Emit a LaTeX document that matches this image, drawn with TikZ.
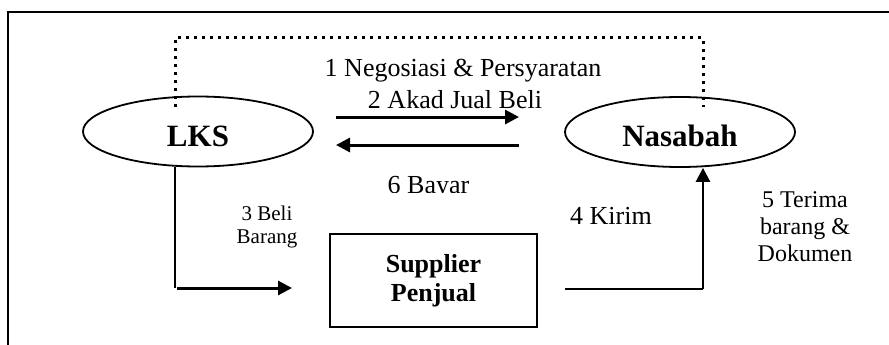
\documentclass[tikz,border=0pt]{standalone}
\usepackage{fontspec}
\setmainfont{Liberation Serif}
\usetikzlibrary{arrows.meta,shapes.geometric}
\begin{document}
\begin{tikzpicture}[x=1pt,y=-1pt,
  ent/.style={ellipse,draw,line width=1.8pt,minimum width=230pt,minimum height=70pt,inner sep=0pt,
    font=\bfseries\fontsize{31}{34}\selectfont,text height=29pt,text depth=0pt},
  boxnode/.style={draw,line width=2.2pt,minimum width=207pt,minimum height=93pt,inner sep=0pt,
    align=center,font=\bfseries\fontsize{26}{29}\selectfont},
  lbl/.style={inner sep=0pt,anchor=base,font=\fontsize{26}{29}\selectfont},
  slbl/.style={inner sep=0pt,align=center,font=\fontsize{21}{23}\selectfont},
  mlbl/.style={inner sep=0pt,align=center,font=\fontsize{24}{27}\selectfont},
  flow/.style={line width=3pt,-{Triangle[length=14pt,width=14pt]}},
  thinline/.style={line width=1.6pt},
  midline/.style={line width=2.3pt},
  dotline/.style={line width=3pt,dash pattern=on 3pt off 5pt},
  frame/.style={line width=2pt}
]
\useasboundingbox (0,0) rectangle (889,345);
% frame
\coordinate (fbl) at (8,345);
\coordinate (ftl) at (8,12);
\coordinate (ftr) at (889,12);
\draw[frame] (fbl) -- (ftl) -- (ftr);

% nodes
\node[ent] (lks) at (198,131.5) {LKS};
\node[ent] (nas) at (680,132) {Nasabah};
\node[boxnode] (sup) at (433.5,280.5) {Supplier\\Penjual};

% dotted negotiation link
\coordinate (d1) at (175,107);
\coordinate (d2) at (175,38);
\coordinate (d3) at (703,38);
\coordinate (d4) at (703,107);
\draw[dotline] (d1) -- (d2) -- (d3) -- (d4);

% middle arrows
\coordinate (a1) at (336,117);
\coordinate (a2) at (519,117);
\coordinate (b1) at (519,145);
\coordinate (b2) at (336,145);
\draw[flow] (a1) -- (a2);
\draw[flow] (b1) -- (b2);

% LKS -> supplier
\coordinate (c1) at (175,288);
\coordinate (c2) at (177,288);
\coordinate (c3) at (292,288);
\draw[thinline] (lks.south -| c1) -- (c1);
\draw[flow] (c2) -- (c3);

% supplier -> nasabah
\coordinate (e1) at (565,289);
\coordinate (e2) at (703,289);
\draw[midline] (e1) -- (e2);
\draw[flow,line width=2.6pt] (e2) -- (nas.south -| e2);

% labels
\node[lbl] (t1) at (463,76.5) {1 Negosiasi \& Persyaratan};
\node[lbl] (t2) at (455,108) {2 Akad Jual Beli};
\begin{scope}
\clip (300,150) rectangle (560,192);
\node[lbl] (t6) at (428.5,193.5) {6 Bayar};
\end{scope}
\node[slbl] (t3) at (267,227) {3 Beli\\Barang};
\node[lbl] (t4) at (611,224) {4 Kirim};
\node[mlbl] (t5) at (805,227) {5 Terima\\barang \&\\Dokumen};
\end{tikzpicture}
\end{document}
